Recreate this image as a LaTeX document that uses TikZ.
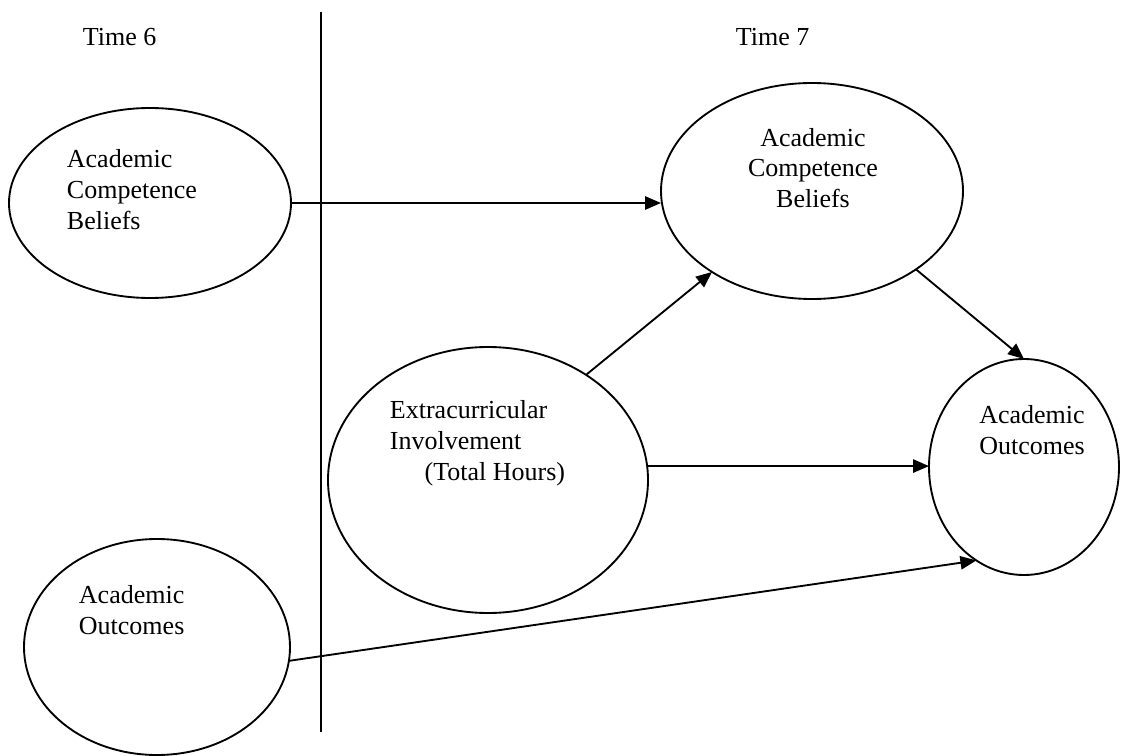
\documentclass[tikz,border=0pt]{standalone}
\usepackage{fontspec}
\setmainfont{Liberation Serif}
\usetikzlibrary{arrows.meta,shapes.geometric}

\begin{document}
\begin{tikzpicture}[x=.75pt,y=-.75pt,>={Triangle[length=12pt,width=10pt]},line width=1.4pt,
  font=\fontsize{19.5}{23.25}\selectfont,
  oval/.style={draw,ellipse,inner sep=0pt,outer sep=0pt},
  lbl/.style={inner sep=0pt}]
\useasboundingbox (0,0) rectangle (1128,756);
\node[lbl,anchor=base west] (time6) at (82,46) {Time 6};
\node[lbl,anchor=base west] (time7) at (735,46) {Time 7};
\coordinate (divtop) at (321,12);
\coordinate (divbot) at (321,732);
\draw (divtop) -- (divbot);
\node[oval,minimum width=211.5pt,minimum height=142.5pt] (acb6) at (150,203) {};
\node[oval,minimum width=199.5pt,minimum height=162pt] (ao6) at (157,647) {};
\node[oval,minimum width=226.5pt,minimum height=162pt] (acb7) at (812,191) {};
\node[oval,minimum width=240pt,minimum height=199.5pt] (eci) at (488,480) {};
\node[oval,minimum width=142.5pt,minimum height=162pt] (ao7) at (1024,467) {};
\node[lbl,anchor=base west,align=left] (acb6t) at (66,229) {Academic\\Competence\\Beliefs};
\node[lbl,anchor=base west,align=left] (ao6t) at (78,634) {Academic\\Outcomes};
\node[lbl,anchor=base,align=center] (acb7t) at (813,208) {Academic\\Competence\\Beliefs};
\node[lbl,anchor=base west,align=left] (ecit) at (389,480) {Extracurricular\\Involvement\\\hspace*{26pt}(Total Hours)};
\node[lbl,anchor=base,align=center] (ao7t) at (1032,454) {Academic\\Outcomes};
\draw[->] (acb6.east) -- (acb6.east -| acb7.west);
\draw[->] (eci.47.5) -- (acb7.219);
\draw[->] (acb7.323) -- (ao7.north);
\draw[->] (eci.5) -- (eci.5 -| ao7.west);
\draw[->] (ao6.-6) -- (ao7.243);
\end{tikzpicture}
\end{document}
